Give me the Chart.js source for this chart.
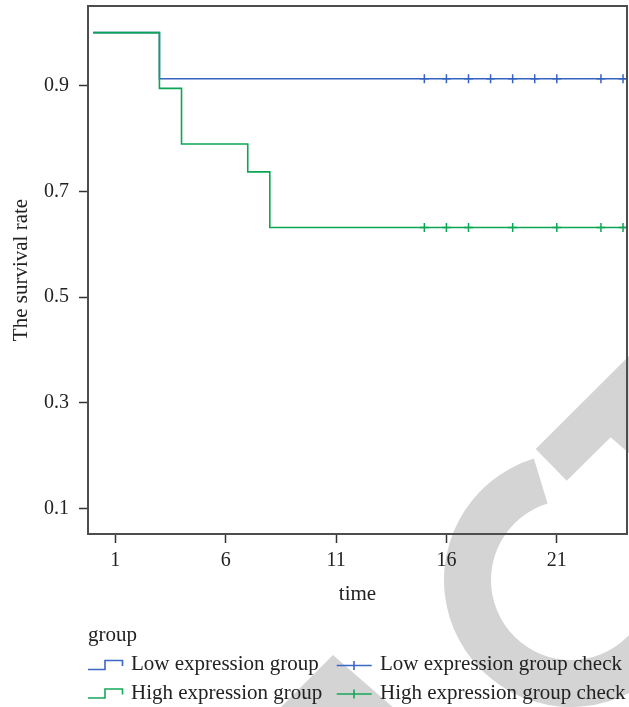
<!DOCTYPE html>
<html>
<head>
<meta charset="utf-8">
<script src="https://cdn.jsdelivr.net/npm/chart.js@4.4.0/dist/chart.umd.min.js"></script>
<style>
html,body{margin:0;padding:0;background:#fff;}
#wrap{position:relative;width:629px;height:707px;overflow:hidden;}
#c{position:absolute;left:0;top:0;}
#icons{position:absolute;left:0;top:0;}
.lg{position:absolute;font-family:'Liberation Serif','Times New Roman',serif;font-size:21px;color:#222;line-height:24px;white-space:nowrap;}
</style>
</head>
<body>
<div id="wrap">
<canvas id="c" width="629" height="707"></canvas>
<svg id="icons" width="629" height="707">
  <path d="M88,669.5 H105 V660.5 H122.5 V666" fill="none" stroke="#3a67c2" stroke-width="1.6"/>
  <path d="M88,698 H105 V689 H122.5 V694.5" fill="none" stroke="#14a85a" stroke-width="1.6"/>
  <path d="M336.7,665.5 H371.7 M354,661 V670" fill="none" stroke="#3a67c2" stroke-width="1.6"/>
  <path d="M336.7,694 H371.7 M354,689.5 V698.5" fill="none" stroke="#14a85a" stroke-width="1.6"/>
</svg>
<div class="lg" style="left:88px;top:621.5px">group</div>
<div class="lg" style="left:131px;top:651px">Low expression group</div>
<div class="lg" style="left:131px;top:679.5px">High expression group</div>
<div class="lg" style="left:380px;top:651px">Low expression group check</div>
<div class="lg" style="left:380px;top:679.5px">High expression group check</div>
</div>
<script>
// ---- data ----
const X_TICKS = [1, 6, 11, 16, 21];
const Y_TICKS = [0.1, 0.3, 0.5, 0.7, 0.9];
const X_MIN = -0.236, X_MAX = 24.18;
const Y_MIN = 0.0522, Y_MAX = 1.0504;
const END_TIME = 24.18;

const lowTimes = [0, 3, END_TIME];
const lowSurv  = [1.0, 0.9130, 0.9130];
const highTimes = [0, 3, 4, 7, 8, END_TIME];
const highSurv  = [1.0, 0.8947, 0.7895, 0.7368, 0.6316, 0.6316];

const lowCensorTimes = [15, 16, 17, 18, 19, 20, 21, 23, 24];
const lowCensorSurv = 0.9130;
const highCensorTimes = [15, 16, 17, 19, 21, 23, 24];
const highCensorSurv = 0.6316;

const BLUE = '#3463c0';
const GREEN = '#0aa655';

const toPts = (xs, ys) => xs.map((x, i) => ({x: x, y: ys[i]}));
const censorPts = (xs, y) => xs.map(x => ({x: x, y: y}));

const FONT = "'Liberation Serif','Times New Roman',serif";

const watermark = {
  id: 'watermark',
  beforeDraw(chart) {
    const ctx = chart.ctx;
    ctx.save();
    ctx.fillStyle = '#d4d4d4';
    // ring arc
    const cx = 571, cy = 580, rIn = 80, rOut = 127;
    const a0 = -107 * Math.PI / 180, a1 = 0;
    ctx.beginPath();
    ctx.arc(cx, cy, rOut, a0, a1, true);
    ctx.arc(cx, cy, rIn, a1, a0, false);
    ctx.closePath();
    ctx.fill();
    // diagonal band
    ctx.beginPath();
    ctx.moveTo(535.7, 449);
    ctx.lineTo(660, 325);
    ctx.lineTo(660, 480);
    ctx.lineTo(610.7, 437.3);
    ctx.lineTo(566.7, 480.7);
    ctx.closePath();
    ctx.fill();
    // lower wedge
    ctx.beginPath();
    ctx.moveTo(333, 655);
    ctx.lineTo(278, 710);
    ctx.lineTo(396, 710);
    ctx.closePath();
    ctx.fill();
    ctx.restore();
  }
};

const frame = {
  id: 'frame',
  afterDatasetsDraw(chart) {
    const a = chart.chartArea;
    const ctx = chart.ctx;
    ctx.save();
    ctx.strokeStyle = '#4d4d4d';
    ctx.lineWidth = 2;
    ctx.strokeRect(a.left, a.top, a.right - a.left, a.bottom - a.top);
    ctx.restore();
  }
};

new Chart(document.getElementById('c'), {
  type: 'scatter',
  data: {
    datasets: [
      { label: 'High expression group', data: toPts(highTimes, highSurv), showLine: true, stepped: true,
        borderColor: GREEN, borderWidth: 1.6, pointRadius: 0, fill: false },
      { label: 'Low expression group', data: toPts(lowTimes, lowSurv), showLine: true, stepped: true,
        borderColor: BLUE, borderWidth: 1.6, pointRadius: 0, fill: false },
      { label: 'Low expression group check', data: censorPts(lowCensorTimes, lowCensorSurv), showLine: false,
        pointStyle: 'cross', pointRadius: 4.5, borderColor: BLUE, borderWidth: 1.5 },
      { label: 'High expression group check', data: censorPts(highCensorTimes, highCensorSurv), showLine: false,
        pointStyle: 'cross', pointRadius: 4.5, borderColor: GREEN, borderWidth: 1.5 }
    ]
  },
  options: {
    responsive: false,
    animation: false,
    devicePixelRatio: 1,
    layout: { autoPadding: false, padding: { left: 0, top: 6, right: 2, bottom: 99 } },
    plugins: { legend: { display: false }, tooltip: { enabled: false } },
    scales: {
      x: {
        type: 'linear', min: X_MIN, max: X_MAX,
        afterBuildTicks: s => { s.ticks = X_TICKS.map(v => ({value: v})); },
        afterFit: s => { s.height = 74; s.paddingLeft = 0; s.paddingRight = 0; s.paddingTop = 0; s.paddingBottom = 0; },
        grid: { drawOnChartArea: false, drawTicks: true, tickLength: 9, tickColor: '#333', tickWidth: 1.5 },
        border: { display: false },
        ticks: { padding: 6, color: '#222', font: { family: FONT, size: 20 }, maxRotation: 0, autoSkip: false,
                 callback: v => String(v) },
        title: { display: true, text: 'time', color: '#222', font: { family: FONT, size: 21 },
                 padding: { top: 0, bottom: 1 } }
      },
      y: {
        type: 'linear', min: Y_MIN, max: Y_MAX,
        afterBuildTicks: s => { s.ticks = Y_TICKS.map(v => ({value: v})); },
        afterFit: s => { s.width = 88; s.paddingLeft = 0; s.paddingRight = 0; s.paddingTop = 0; s.paddingBottom = 0; },
        grid: { drawOnChartArea: false, drawTicks: true, tickLength: 9, tickColor: '#333', tickWidth: 1.5 },
        border: { display: false },
        ticks: { padding: 10, color: '#222', font: { family: FONT, size: 20 }, autoSkip: false,
                 callback: v => v.toFixed(1) },
        title: { display: true, text: 'The survival rate', color: '#222', font: { family: FONT, size: 21 },
                 padding: { top: 9, bottom: 0 } }
      }
    }
  },
  plugins: [watermark, frame]
});
</script>
</body>
</html>
